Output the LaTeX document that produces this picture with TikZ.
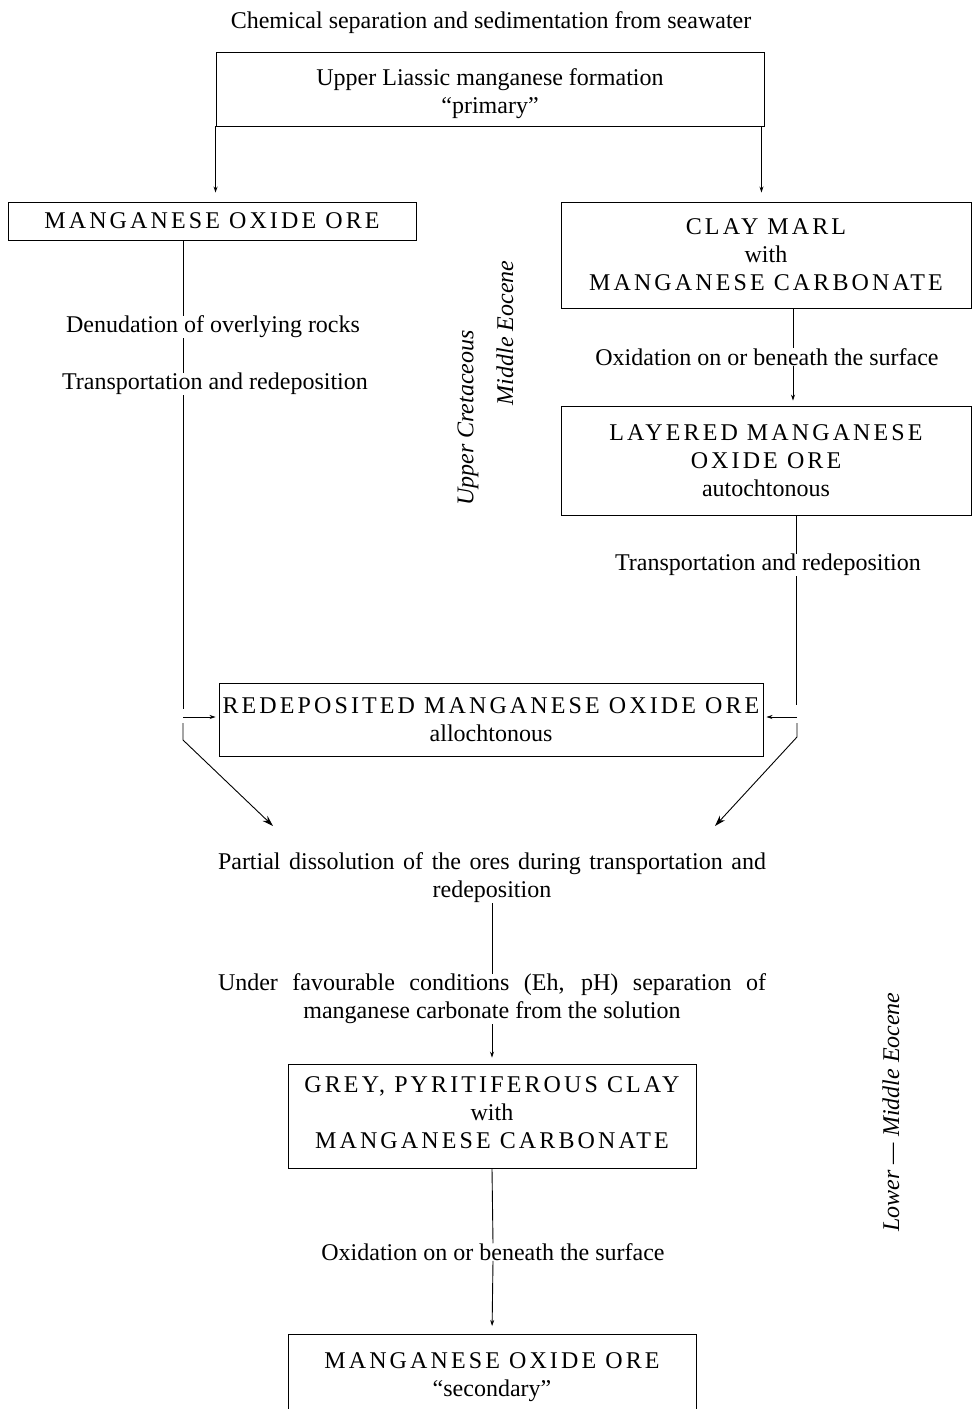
\documentclass[tikz,border=0pt]{standalone}
\usepackage{fontspec}
\setmainfont{Liberation Serif}
\usetikzlibrary{arrows.meta}
\newcommand\spc[1]{{\addfontfeature{LetterSpace=13}#1}}
\tikzset{
  every node/.style={font=\fontsize{24}{28}\selectfont, inner sep=0pt, align=center},
  bx/.style={draw, line width=0.9pt},
  ln/.style={line width=0.9pt},
  arr/.style={ln, -{Stealth[length=6pt,width=4pt]}},
  darr/.style={ln, -{Stealth[length=11pt,width=7pt]}},
  rot/.style={rotate=90, font=\fontsize{24}{28}\selectfont\itshape}
}
\begin{document}
\begin{tikzpicture}[x=1pt,y=-1pt]
\clip (0,0) rectangle (972,1409);
\fill[white] (0,0) rectangle (972,1409);

\node (title) at (491,23) {Chemical separation and sedimentation from seawater};
\node[bx,minimum width=548,minimum height=74] (top) at (490,89) {\rule{0pt}{27pt}Upper Liassic manganese formation\\``primary''};
\node[bx,minimum width=408,minimum height=38] (mox) at (212,221) {\spc{MANGANESE OXIDE ORE}};
\node[bx,minimum width=410,minimum height=106] (clay) at (766,255) {\spc{CLAY MARL}\\with\\\spc{MANGANESE CARBONATE}};
\node (den) at (213,327) {Denudation of overlying rocks};
\node (tr1) at (215,384) {Transportation and redeposition};
\node (ox1) at (767,357) {Oxidation on or beneath the surface};
\node[bx,minimum width=410,minimum height=109] (lay) at (766,460.5) {\spc{LAYERED MANGANESE}\\\spc{OXIDE ORE}\\autochtonous};
\node (tr2) at (768,565) {Transportation and redeposition};
\node[bx,minimum width=544,minimum height=73] (red) at (491,720) {\spc{REDEPOSITED MANGANESE OXIDE ORE}\\allochtonous};
\node[rot] (uc) at (468,418) {Upper Cretaceous};
\node[rot] (me) at (505,333) {Middle Eocene};
\node[rot] (lme) at (891,1112) {Lower — Middle Eocene};
\node (part) at (492,878) {\makebox[548pt][s]{Partial dissolution of the ores during transportation and}\\redeposition};
\node (und) at (492,999) {\makebox[548pt][s]{Under favourable conditions (Eh, pH) separation of}\\manganese carbonate from the solution};
\node[bx,minimum width=408,minimum height=104] (grey) at (492,1116) {\spc{GREY, PYRITIFEROUS CLAY}\\with\\\spc{MANGANESE CARBONATE}\rule[-6pt]{0pt}{6pt}};
\node (ox2) at (493,1252) {Oxidation on or beneath the surface};
\node[bx,minimum width=408,minimum height=86,anchor=north] (sec) at (492,1334) {\spc{MANGANESE OXIDE ORE}\\``secondary''};

% top split
\draw[arr,shorten >=9pt] (top.south west) -- (top.south west |- mox.north);
\draw[arr,shorten >=9pt] ([xshift=-3pt]top.south east) -- ([xshift=-3pt]top.south east |- clay.north);

% left column
\coordinate (lx) at (183,0);
\coordinate (lj) at (183,709);
\coordinate (la) at (183,717);
\coordinate (lb) at (183,723);
\coordinate (lc) at (183,740);
\coordinate (ld) at (273,826);
\draw[ln] (mox.south -| lx) -- (den.north -| lx);
\draw[ln] (den.south -| lx) -- (tr1.north -| lx);
\draw[ln] (tr1.south -| lx) -- (lj);
\draw[arr,shorten >=3pt] (la) -- (red.west |- la);
\draw[darr] (lb) -- (lc) -- (ld);

% right column
\coordinate (rx1) at (793,0);
\coordinate (rx2) at (796,0);
\coordinate (rj) at (796,705);
\coordinate (ra) at (797,717);
\coordinate (rb) at (797,723);
\coordinate (rc) at (797,737);
\coordinate (rd) at (715,826);
\draw[ln] (clay.south -| rx1) -- (ox1.north -| rx1);
\draw[arr,shorten >=5pt] (ox1.south -| rx1) -- (lay.north -| rx1);
\draw[ln] (lay.south -| rx2) -- (tr2.north -| rx2);
\draw[ln] (tr2.south -| rx2) -- (rj);
\draw[arr,shorten >=3pt] (ra) -- (red.east |- ra);
\draw[darr] (rb) -- (rc) -- (rd);

% centre
\draw[ln] (part.south) -- (und.north);
\draw[arr,shorten >=6pt] (und.south) -- (grey.north);
\draw[ln] (grey.south) -- (ox2.north);
\draw[arr,shorten >=8pt] (ox2.south) -- (sec.north);
\end{tikzpicture}
\end{document}
